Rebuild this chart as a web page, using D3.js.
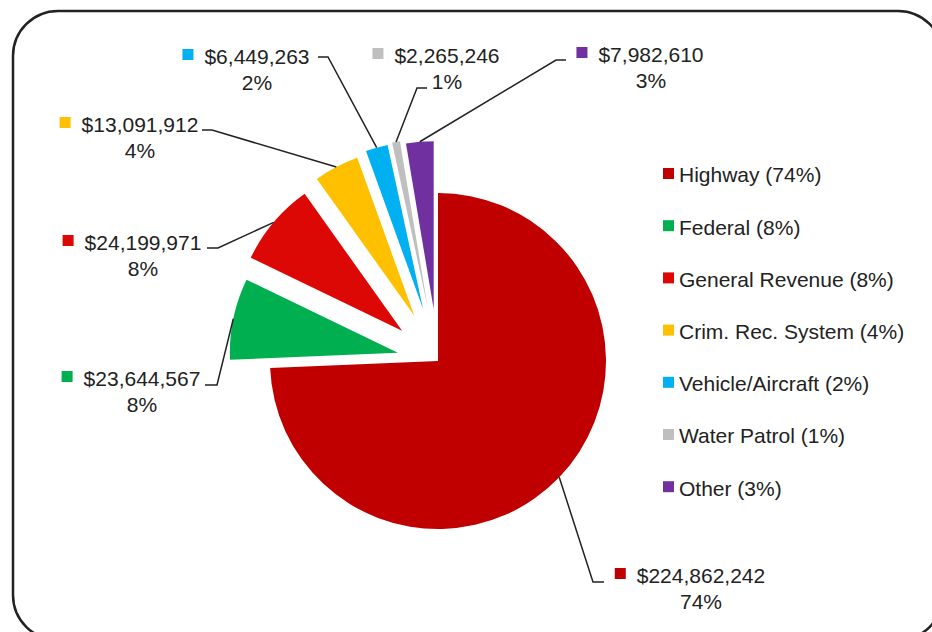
<!DOCTYPE html>
<html>
<head>
<meta charset="utf-8">
<script src="https://cdn.jsdelivr.net/npm/d3@7"></script>
<style>
  body { margin: 0; background: #fff; }
  text { font-family: "Liberation Sans", Arial, sans-serif; fill: #222; }
</style>
</head>
<body>
<div id="main"></div>
<script>
var categories = ['Highway', 'Federal', 'General Revenue', 'Crim. Rec. System', 'Vehicle/Aircraft', 'Water Patrol', 'Other']
var amounts = [224862242, 23644567, 24199971, 13091912, 6449263, 2265246, 7982610]
var colors = ['#c00000', '#00b050', '#dc0806', '#ffc000', '#00b0f0', '#bfbfbf', '#7030a0']

var width = 932
var height = 632
var cx = 438
var cy = 361
var radius = 168
var fontSize = 21

// how far each slice is pulled out of the pie
var explode = [0, 41, 47, 51, 54, 55, 52]

// where each data label sits: text centre, first line y, leader start and elbow
var labelLayout = [
  { x: 701, y: 576, ax: 604, ay: 582, ex: 593 },
  { x: 142, y: 379, ax: 205, ay: 385, ex: 217 },
  { x: 143, y: 243, ax: 207, ay: 248, ex: 218 },
  { x: 140, y: 125, ax: 202, ay: 130, ex: 212 },
  { x: 257, y: 57, ax: 318, ay: 57, ex: 328 },
  { x: 447, y: 56, ax: 427, ay: 88, ex: 417 },
  { x: 651, y: 55, ax: 566, ay: 60, ex: 556 }
]

var total = d3.sum(amounts)
var pct = v => Math.round(v / total * 100) + '%'
var money = d3.format(',')

var data = categories.map((c, i) => ({ name: c, value: amounts[i], color: colors[i], layout: labelLayout[i], i: i }))

var svg = d3.select('#main')
  .append('svg')
  .attr('width', width)
  .attr('height', height)

svg.append('rect')
  .attr('x', 13)
  .attr('y', 11)
  .attr('width', 930)
  .attr('height', 629)
  .attr('rx', 45)
  .attr('fill', 'none')
  .attr('stroke', '#222')
  .attr('stroke-width', 2.5)

var pie = d3.pie().sort(null).value(_ => _.value)
var arc = d3.arc().innerRadius(0).outerRadius(radius)
var arcs = pie(data)

function shift (d) {
  var a = (d.startAngle + d.endAngle) / 2
  var e = explode[d.index]
  return [Math.sin(a) * e, -Math.cos(a) * e]
}

var g = svg.append('g').attr('transform', `translate(${cx}, ${cy})`)

g.selectAll('path.slice')
  .data(arcs)
  .enter()
  .append('path')
    .attr('class', 'slice')
    .attr('d', arc)
    .attr('fill', _ => _.data.color)
    .attr('transform', _ => `translate(${shift(_)})`)

// leader lines
g.selectAll('path.leader')
  .data(arcs)
  .enter()
  .append('path')
    .attr('class', 'leader')
    .attr('fill', 'none')
    .attr('stroke', '#222')
    .attr('stroke-width', 1.5)
    .attr('d', function (d) {
      var a = (d.startAngle + d.endAngle) / 2
      var s = shift(d)
      var px = s[0] + Math.sin(a) * radius
      var py = s[1] - Math.cos(a) * radius
      var l = d.data.layout
      return `M${l.ax - cx},${l.ay - cy}H${l.ex - cx}L${px},${py}`
    })

// data labels
var labels = svg.selectAll('g.label')
  .data(data)
  .enter()
  .append('g')
    .attr('class', 'label')

labels.append('text')
  .attr('class', 'val')
  .attr('x', _ => _.layout.x)
  .attr('y', _ => _.layout.y)
  .attr('dy', '0.35em')
  .attr('text-anchor', 'middle')
  .style('font-size', fontSize + 'px')
  .text(_ => '$' + money(_.value))

labels.append('text')
  .attr('x', _ => _.layout.x)
  .attr('y', _ => _.layout.y + 26)
  .attr('dy', '0.35em')
  .attr('text-anchor', 'middle')
  .style('font-size', fontSize + 'px')
  .text(_ => pct(_.value))

labels.each(function (d) {
  var w = d3.select(this).select('text.val').node().getComputedTextLength()
  d3.select(this).append('rect')
    .attr('x', d.layout.x - w / 2 - 22)
    .attr('y', d.layout.y - 8)
    .attr('width', 11)
    .attr('height', 11)
    .attr('fill', d.color)
})

// legend
var legend = svg.selectAll('g.legend')
  .data(data)
  .enter()
  .append('g')
    .attr('class', 'legend')
    .attr('transform', (_, i) => `translate(663, ${175 + i * 52.2})`)

legend.append('rect')
  .attr('y', -7)
  .attr('width', 11)
  .attr('height', 11)
  .attr('fill', _ => _.color)

legend.append('text')
  .attr('x', 16)
  .attr('dy', '0.35em')
  .style('font-size', fontSize + 'px')
  .text(_ => `${_.name} (${pct(_.value)})`)
</script>
</body>
</html>
